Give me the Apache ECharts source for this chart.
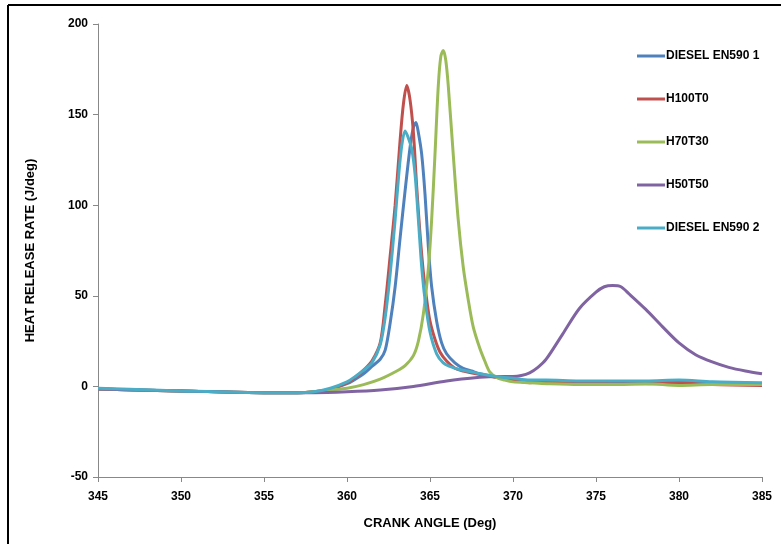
<!DOCTYPE html>
<html><head><meta charset="utf-8">
<script src="https://cdn.jsdelivr.net/npm/echarts@6/dist/echarts.min.js"></script>
<style>html,body{margin:0;padding:0;background:#fff}#c{width:781px;height:544px}</style>
</head><body><div id="c"></div>
<script>
const seriesNames = ['DIESEL EN590 1','H100T0','H70T30','H50T50','DIESEL EN590 2'];
const xTicks = [345,350,355,360,365,370,375,380,385];
const yTicks = [-50,0,50,100,150,200];

const blueX = [345,350,355,357,358,359,360,360.5,361,361.5,362,362.3,362.6,362.9,363.2,363.5,363.8,364,364.15,364.3,364.5,364.7,364.9,365.1,365.4,365.7,366,366.5,367,367.5,368,369,370,371,372,374,376,378,380,382,385];
const blueY = [-1.5,-2.5,-3.5,-3.5,-3,-1.5,1.5,4,7,11,15,20,35,55,82,108,132,143,145.7,140,128,106,77,55,36,24,18,13,10,8.5,7,5,3.5,2.5,3,2,2.5,2,2.5,1.5,1];

const redX = [345,350,355,357,358,359,360,360.5,361,361.5,362,362.3,362.6,362.9,363.2,363.4,363.6,363.8,364,364.2,364.4,364.6,364.8,365,365.3,365.6,366,366.5,367,368,369,370,371,372,374,376,378,380,382,385];
const redY = [-1.5,-2.5,-3.5,-3.5,-3,-1.5,2,5,9,14,24,45,72,100,136,156,166,158,140,110,84,63,48,36,26,19,14,10,8.5,6.5,5,3.5,2,2.5,2,1.5,1.5,2,1,0.5];

const greenX = [345,350,355,357,358,359,360,361,362,363,363.5,364,364.3,364.6,364.9,365.1,365.3,365.5,365.65,365.8,365.95,366.1,366.4,366.7,367,367.3,367.6,368,368.3,368.6,369,369.5,370,371,372,374,376,378,380,382,385];
const greenY = [-1.5,-2.5,-3.5,-3.5,-3,-2,-1,1,4,8.5,11.5,17,25,40,65,92,128,166,182,185.4,180,166,128,92,66,48,33,21,14,8,5,3.5,2.5,2,1.5,1,1,1.5,0.5,1,1];

const purpleX = [345,350,355,358,360,362,364,366,368,369,370,370.5,371,371.5,372,373,374,375,375.5,376,376.5,377,378,379,380,381,382,383,384,385];
const purpleY = [-1.5,-2.5,-3.5,-3.5,-3,-2,0,3,5,5.5,5.5,6,7.5,10.5,15,29,43,52,55,55.7,55,51,42.5,33,24,17.5,13.5,10.5,8.5,7];

const cyanX = [345,350,355,357,358,359,360,360.5,361,361.5,362,362.3,362.6,362.9,363.1,363.3,363.5,363.7,363.9,364.1,364.3,364.5,364.7,365,365.4,365.8,366.2,366.7,367.5,368,369,370,371,372,374,376,378,380,382,385];
const cyanY = [-1,-2.5,-3.5,-3.5,-3,-1,2.5,5.5,9,13,23,38,62,92,115,133,141,137,131,117,92,66,48,30,18,13,11,9.5,8,7,5.5,4.5,3.5,3.5,3,3,3,3.5,2.5,2];

const colors = ['#4F81BD','#C0504D','#9BBB59','#8064A2','#4BACC6'];
const xs = [blueX, redX, greenX, purpleX, cyanX];
const ys = [blueY, redY, greenY, purpleY, cyanY];

const font = '"Liberation Sans Narrow","Liberation Sans",Arial,sans-serif';
const chart = echarts.init(document.getElementById('c'), null, {renderer:'canvas'});
chart.setOption({
  animation:false,
  backgroundColor:'#fff',
  color: colors,
  grid:{left:98, right:19, top:24, bottom:67, containLabel:false},
  legend:{
    orient:'vertical', left:632, top:44, itemGap:29, itemWidth:28, itemHeight:3,
    icon:'rect',
    data: seriesNames,
    textStyle:{fontFamily:font, fontWeight:'bold', fontSize:12, lineHeight:14, color:'#000', padding:[0,0,0,-4]}
  },
  xAxis:{
    type:'value', min:xTicks[0], max:xTicks[xTicks.length-1], interval:5,
    name:'CRANK ANGLE (Deg)', nameLocation:'middle', nameGap:40,
    nameTextStyle:{fontFamily:font, fontWeight:'bold', fontSize:13, color:'#000'},
    axisLine:{show:true, onZero:false, lineStyle:{color:'#888', width:1}},
    axisTick:{show:true, length:5, lineStyle:{color:'#888'}},
    splitLine:{show:false},
    axisLabel:{fontFamily:font, fontWeight:'bold', fontSize:12, color:'#000', margin:14}
  },
  yAxis:{
    type:'value', min:yTicks[0], max:yTicks[yTicks.length-1], interval:50,
    name:'HEAT RELEASE RATE (J/deg)', nameLocation:'middle', nameGap:61, nameRotate:90,
    nameTextStyle:{fontFamily:font, fontWeight:'bold', fontSize:13, color:'#000'},
    axisLine:{show:true, onZero:false, lineStyle:{color:'#888', width:1}},
    axisTick:{show:true, length:5, lineStyle:{color:'#888'}},
    splitLine:{show:false},
    axisLabel:{fontFamily:font, fontWeight:'bold', fontSize:12, color:'#000', margin:10}
  },
  graphic:[
    {type:'line', shape:{x1:8, y1:5, x2:8, y2:544}, style:{stroke:'#000', lineWidth:2}},
    {type:'line', shape:{x1:8, y1:5, x2:781, y2:5}, style:{stroke:'#000', lineWidth:2}}
  ],
  series: seriesNames.map((n,i)=>({
    name:n, type:'line', symbol:'none', smooth:0.3,
    lineStyle:{width:3, color:colors[i]},
    itemStyle:{color:colors[i]},
    data: xs[i].map((x,j)=>[x, ys[i][j]])
  }))
});
</script></body></html>
